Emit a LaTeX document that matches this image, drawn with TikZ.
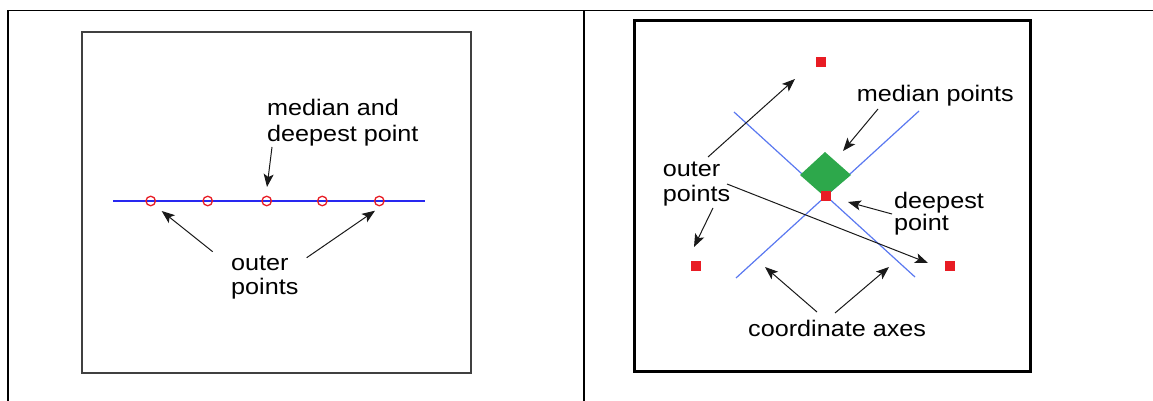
\documentclass[tikz,border=0pt]{standalone}
\usepackage{fontspec}
\setmainfont{Liberation Sans}[FakeStretch=1.12]
\usetikzlibrary{arrows.meta}
\definecolor{ptred}{RGB}{232,28,36}
\definecolor{axblue}{RGB}{90,120,240}
\definecolor{lineblue}{RGB}{40,40,240}
\definecolor{dgreen}{RGB}{45,168,75}
\begin{document}
\begin{tikzpicture}[x=1pt,y=-1pt,
  lbl/.style={anchor=base west,inner sep=0pt,font=\fontsize{22.5}{26}\selectfont},
  arr/.style={draw=black!90,line width=1pt,-{Stealth[length=13pt,width=10pt,inset=3pt]}},
  sq/.style={fill=ptred,draw=none,minimum size=10pt,inner sep=0pt},
  circ/.style={circle,draw=ptred,line width=1.3pt,minimum size=9.5pt,inner sep=0pt},
  frame/.style={line width=1.5pt,black}
]
\useasboundingbox (0,0) rectangle (1153,401);
% table frame
\draw[frame] (8,401) -- (8,10.5) -- (1153,10.5);
\draw[frame] (584,10.5) -- (584,401);
% left panel
\draw[line width=1.2pt,black!75] (82,32) rectangle (471,373);
\draw[lineblue,line width=1.3pt] (113,201) -- (425,201);
\node[circ] (c1) at (150.7,201) {};
\node[circ] (c2) at (207.7,201) {};
\node[circ] (c3) at (266.7,201) {};
\node[circ] (c4) at (322.3,201) {};
\node[circ] (c5) at (379.3,201) {};
\node[lbl] (mA) at (267,116) {median and};
\node[lbl] (mB) at (267,141.7) {deepest point};
\coordinate (mS) at (272,147);
\coordinate (mT) at (267,187);
\draw[arr] (mS) -- (mT);
\node[lbl] (oA) at (231,270) {outer};
\node[lbl] (oB) at (231,294) {points};
\coordinate (oS1) at (212.7,251.7);
\coordinate (oT1) at (161.7,211);
\coordinate (oS2) at (306.7,257.7);
\coordinate (oT2) at (375,210.7);
\draw[arr] (oS1) -- (oT1);
\draw[arr] (oS2) -- (oT2);
% right panel
\draw[line width=3pt] (634,21) rectangle (1030,371);
\draw[axblue,line width=1.2pt] (734,112) -- (915,277);
\draw[axblue,line width=1.2pt] (919,111) -- (736,278);
\fill[dgreen] (825,152) -- (851,175) -- (825,197) -- (800,175) -- cycle;
\node[sq] (s1) at (820.5,62.5) {};
\node[sq] (s2) at (695.5,266) {};
\node[sq] (s3) at (949.5,266) {};
\node[sq] (s4) at (825.5,196) {};
\node[lbl] (mp) at (856.7,101.7) {median points};
\node[lbl] (rA) at (662.7,176.7) {outer};
\node[lbl] (rB) at (662.7,201.7) {points};
\node[lbl] (dA) at (894,208.3) {deepest};
\node[lbl] (dB) at (894,230) {point};
\node[lbl] (ca) at (748,336.7) {coordinate axes};
\coordinate (r1s) at (708,157); \coordinate (r1t) at (795,79);
\coordinate (r2s) at (713,208); \coordinate (r2t) at (694,247);
\coordinate (r3s) at (727,184); \coordinate (r3t) at (928,263);
\coordinate (m1s) at (878,109); \coordinate (m1t) at (843,151);
\coordinate (d1s) at (892,214); \coordinate (d1t) at (848,202);
\coordinate (a1s) at (817,312); \coordinate (a1t) at (765,267);
\coordinate (a2s) at (835,313); \coordinate (a2t) at (889,267);
\draw[arr] (r1s) -- (r1t);
\draw[arr] (r2s) -- (r2t);
\draw[arr] (r3s) -- (r3t);
\draw[arr] (m1s) -- (m1t);
\draw[arr] (d1s) -- (d1t);
\draw[arr] (a1s) -- (a1t);
\draw[arr] (a2s) -- (a2t);
\end{tikzpicture}
\end{document}
